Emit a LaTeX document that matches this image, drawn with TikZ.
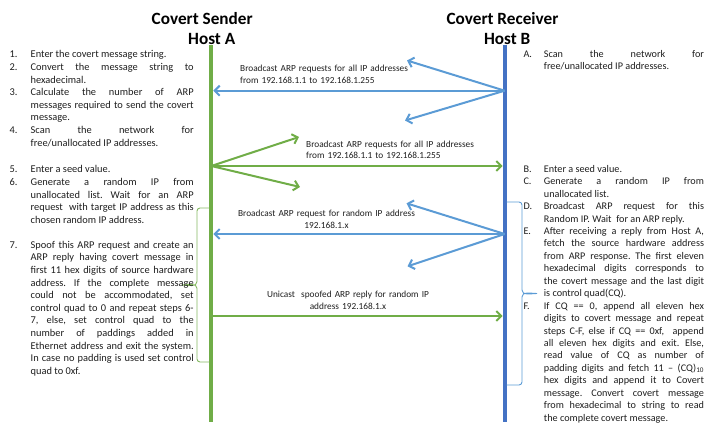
\documentclass[tikz,border=0pt]{standalone}
\usepackage{fontspec}
\setmainfont{Carlito}
\usetikzlibrary{arrows.meta}
\definecolor{gA}{HTML}{70AD47}
\definecolor{bB}{HTML}{4472C4}
\definecolor{bL}{HTML}{5B9BD5}
\definecolor{txt}{HTML}{1E1E1E}
\newcommand{\stepitem}[2]{\hangindent=21.2pt\hangafter=1\noindent\makebox[21.2pt][l]{#1}#2\par}
\newcommand{\stepitemr}[2]{\hangindent=20.4pt\hangafter=1\noindent\makebox[20.4pt][l]{#1}#2\par}
\tikzset{
  ttl/.style={font=\fontsize{17.2pt}{20pt}\selectfont\bfseries, inner sep=0pt, anchor=base},
  lefttxt/.style={font=\fontsize{10.4pt}{12.6pt}\selectfont\frenchspacing, text=txt, inner sep=0pt, anchor=base west, text width=184.2pt, align=justify},
  righttxt/.style={font=\fontsize{10.2pt}{12.45pt}\selectfont\frenchspacing, text=txt, inner sep=0pt, anchor=base west, text width=180.5pt, align=justify},
  lbl/.style={font=\fontsize{9.3pt}{11.5pt}\selectfont\frenchspacing, text=txt, inner sep=0pt},
  hostline/.style={line width=4pt},
  arr/.style={line width=2pt, -{Straight Barb[length=5pt,width=10pt]}},
  brc/.style={line width=0.9pt},
}
\begin{document}
\begin{tikzpicture}[x=1pt,y=-1pt]
\useasboundingbox (0,0) rectangle (705,430);
\tolerance=10000 \hbadness=10000
% titles
\node[ttl] (tS) at (202.2,24.5) {Covert Sender};
\node[ttl] (tA) at (211.7,44.7) {Host A};
\node[ttl] (tR) at (502.5,24.5) {Covert Receiver};
\node[ttl] (tB) at (507.2,44.7) {Host B};
% host lines
\coordinate (Atop) at (211.3,45);
\coordinate (Abot) at (211.3,422);
\coordinate (Btop) at (504.7,45);
\coordinate (Bbot) at (504.7,422);
\draw[hostline, gA] (Atop) -- (Abot);
\draw[hostline, bB] (Btop) -- (Bbot);
% message 1: blue broadcast
\coordinate (B1) at (504.7,90.7);
\coordinate (A1) at (213.3,90.7);
\coordinate (B1u) at (407,60.5);
\coordinate (B1d) at (405,120.5);
\draw[arr, bL] (B1) -- (A1);
\draw[arr, bL] (B1) -- (B1u);
\draw[arr, bL] (B1) -- (B1d);
\node[lbl, anchor=base west, text width=200pt, align=left] (m1) at (240,71.8) {Broadcast ARP requests for all IP addresses\\from 192.168.1.1 to 192.168.1.255};
% message 2: green broadcast
\coordinate (A2) at (211.3,166);
\coordinate (B2) at (502.7,166);
\coordinate (A2u) at (299,137);
\coordinate (A2d) at (300,187);
\draw[arr, gA] (A2) -- (B2);
\draw[arr, gA] (A2) -- (A2u);
\draw[arr, gA] (A2) -- (A2d);
\node[lbl, anchor=base west, text width=200pt, align=left] (m2) at (306,147.5) {Broadcast ARP requests for all IP addresses\\from 192.168.1.1 to 192.168.1.255};
% message 3: blue broadcast for random IP
\coordinate (B3) at (504.7,234);
\coordinate (A3) at (213.3,234);
\coordinate (B3u) at (406.5,203.3);
\coordinate (B3d) at (407.5,266.3);
\draw[arr, bL] (B3) -- (A3);
\draw[arr, bL] (B3) -- (B3u);
\draw[arr, bL] (B3) -- (B3d);
\node[lbl, anchor=base, text width=200pt, align=center] (m3) at (326.5,217) {Broadcast ARP request for random IP address\\192.168.1.x};
% message 4: green unicast reply
\coordinate (A4) at (211.3,316);
\coordinate (B4) at (502.7,316);
\draw[arr, gA] (A4) -- (B4);
\node[lbl, anchor=base, text width=200pt, align=center] (m4) at (348,298) {Unicast\ \ spoofed ARP reply for random IP\\address 192.168.1.x};
% left brace
\coordinate (LbT) at (209.3,208);
\coordinate (LbB) at (209.3,362);
\coordinate (LbM) at (181.5,285);
\draw[brc, gA!85] (LbT) -- (200,208) to[out=180,in=90] (197,211) -- (197,281.5) to[out=-90,in=0] (LbM) to[out=0,in=90] (197,288.5) -- (197,359) to[out=-90,in=180] (200,362) -- (LbB);
% right brace
\coordinate (RbT) at (506.7,202);
\coordinate (RbB) at (506.7,385);
\coordinate (RbM) at (537,293.5);
\draw[brc, bL] (RbT) -- (519,202) to[out=0,in=90] (522,205) -- (522,290) to[out=-90,in=180] (RbM) to[out=180,in=90] (522,297) -- (522,382) to[out=-90,in=0] (519,385) -- (RbB);
% left steps
\node[lefttxt] (s1) at (9.3,57.3) {\stepitem{1.}{Enter the covert message string.}};
\node[lefttxt] (s2) at (9.3,70.6) {\stepitem{2.}{Convert the message string to\linebreak hexadecimal.}};
\node[lefttxt] (s3) at (9.3,95.6) {\stepitem{3.}{Calculate the number of ARP\linebreak messages required to send the covert\linebreak message.}};
\node[lefttxt] (s4) at (9.3,134) {\stepitem{4.}{Scan the network for\linebreak free/unallocated IP addresses.}};
\node[lefttxt] (s5) at (9.3,172.3) {\stepitem{5.}{Enter a seed value.}};
\node[lefttxt] (s6) at (9.3,185.6) {\stepitem{6.}{Generate a random IP from\linebreak unallocated list. Wait for an ARP\linebreak request\ \ with target IP address as this\linebreak chosen random IP address.}};
\node[lefttxt] (s7) at (9.3,248.3) {\stepitem{7.}{Spoof this ARP request and create an\linebreak ARP reply having covert message in\linebreak first 11 hex digits of source hardware\linebreak address. If the complete message\linebreak could not be accommodated, set\linebreak control quad to 0 and repeat steps 6-\linebreak 7, else, set control quad to the\linebreak number of paddings added in\linebreak Ethernet address and exit the system.\linebreak In case no padding is used set control\linebreak quad to 0xf.}};
% right steps
\node[righttxt] (rA) at (523.3,57.3) {\stepitemr{A.}{Scan the network for\linebreak free/unallocated IP addresses.}};
\node[righttxt] (rB) at (523.3,172.3) {\stepitemr{B.}{Enter a seed value.}};
\node[righttxt] (rC) at (523.3,184.7) {\stepitemr{C.}{Generate a random IP from\linebreak unallocated list.}};
\node[righttxt] (rD) at (523.3,209.6) {\stepitemr{D.}{Broadcast ARP request for this\linebreak Random IP. Wait\ \ for an ARP reply.}};
\node[righttxt] (rE) at (523.3,234.5) {\stepitemr{E.}{After receiving a reply from Host A,\linebreak fetch the source hardware address\linebreak from ARP response. The first eleven\linebreak hexadecimal digits corresponds to\linebreak the covert message and the last digit\linebreak is control quad(CQ).}};
\node[righttxt] (rF) at (523.3,309.2) {\stepitemr{F.}{If CQ == 0, append all eleven hex\linebreak digits to covert message and repeat\linebreak steps C-F, else if CQ == 0xf,\ \ append\linebreak all eleven hex digits and exit. Else,\linebreak read value of CQ as number of\linebreak padding digits and fetch 11 – (CQ)\textsubscript{10}\linebreak hex digits and append it to Covert\linebreak message. Convert covert message\linebreak from hexadecimal to string to read\linebreak the complete covert message.}};
\end{tikzpicture}
\end{document}
